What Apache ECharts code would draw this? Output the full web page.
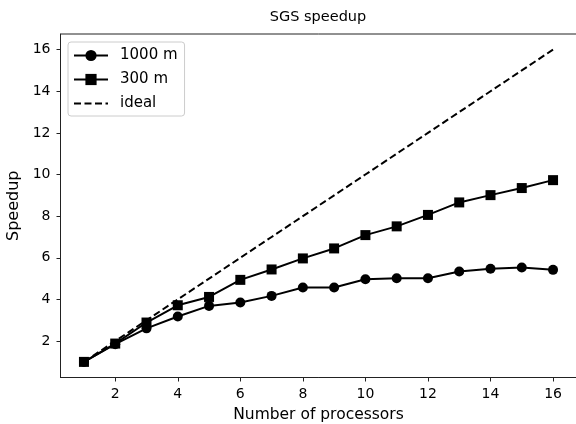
<!DOCTYPE html>
<html>
<head>
<meta charset="utf-8">
<script src="https://cdn.jsdelivr.net/npm/echarts@6/dist/echarts.min.js"></script>
<style>html,body{margin:0;padding:0;background:#fff}#c{width:576px;height:424px}</style>
</head>
<body>
<div id="c"></div>
<script>
const processors = [1,2,3,4,5,6,7,8,9,10,11,12,13,14,15,16];
const speedup1000 = [1.0,1.85,2.61,3.18,3.69,3.85,4.17,4.57,4.57,4.97,5.02,5.02,5.34,5.47,5.53,5.42];
const speedup300 = [1.0,1.88,2.89,3.72,4.12,4.94,5.44,5.97,6.45,7.09,7.51,8.06,8.66,9.01,9.35,9.73];
const ideal = [1,2,3,4,5,6,7,8,9,10,11,12,13,14,15,16];
const xTicks = [2,4,6,8,10,12,14,16];
const yTicks = [2,4,6,8,10,12,14,16];

const FONT = 'DejaVu Sans';
const pair = (ys) => processors.map((x, i) => [x, ys[i]]);

const chart = echarts.init(document.getElementById('c'), null, {renderer: 'canvas'});
chart.setOption({
  animation: false,
  backgroundColor: '#fff',
  textStyle: {fontFamily: FONT, color: '#000'},
  title: {
    text: 'SGS speedup',
    left: 318, top: 10, textAlign: 'center', padding: 0,
    textStyle: {fontFamily: FONT, fontSize: 14.5, fontWeight: 'normal', color: '#000'}
  },
  grid: {
    left: 60.5, right: -0.5, top: 34, bottom: 46.5,
    containLabel: false, outerBoundsMode: 'none',
    show: true, borderColor: '#222', borderWidth: 1, backgroundColor: 'transparent'
  },
  legend: {
    orient: 'vertical', left: 68, top: 42,
    padding: [6, 7, 5, 5],
    itemWidth: 34, itemHeight: 14, itemGap: 9,
    backgroundColor: 'rgba(255,255,255,0.85)',
    borderColor: '#ccc', borderWidth: 1, borderRadius: 3,
    textStyle: {fontFamily: FONT, fontSize: 15, color: '#000', padding: [0, 0, 0, 7]},
    data: [
      {name: '1000 m'},
      {name: '300 m'},
      {name: 'ideal', itemStyle: {color: 'rgba(0,0,0,0)', borderWidth: 0}}
    ]
  },
  xAxis: {
    type: 'value', min: 0.25, max: 16.75,
    name: 'Number of processors', nameLocation: 'middle', nameGap: 29,
    nameTextStyle: {fontFamily: FONT, fontSize: 15.5, color: '#000'},
    axisLine: {show: true, lineStyle: {color: '#222', width: 1}},
    axisTick: {show: true, inside: false, length: 4, lineStyle: {color: '#222'}, customValues: xTicks},
    axisLabel: {fontFamily: FONT, fontSize: 14, color: '#000', margin: 10, customValues: xTicks},
    splitLine: {show: false}
  },
  yAxis: {
    type: 'value', min: 0.25, max: 16.75,
    name: 'Speedup', nameLocation: 'middle', nameGap: 35, nameRotate: 90,
    nameTextStyle: {fontFamily: FONT, fontSize: 16, color: '#000'},
    axisLine: {show: true, lineStyle: {color: '#222', width: 1}},
    axisTick: {show: true, inside: false, length: 4, lineStyle: {color: '#222'}, customValues: yTicks},
    axisLabel: {fontFamily: FONT, fontSize: 14, color: '#000', margin: 10, customValues: yTicks},
    splitLine: {show: false}
  },
  series: [
    {
      name: '1000 m', type: 'line', data: pair(speedup1000),
      symbol: 'circle', symbolSize: 10,
      lineStyle: {color: '#000', width: 2},
      itemStyle: {color: '#000', borderWidth: 0}
    },
    {
      name: '300 m', type: 'line', data: pair(speedup300),
      symbol: 'rect', symbolSize: 10,
      lineStyle: {color: '#000', width: 2},
      itemStyle: {color: '#000', borderWidth: 0}
    },
    {
      name: 'ideal', type: 'line', data: pair(ideal),
      symbol: 'none',
      lineStyle: {color: '#000', width: 2, type: [7, 3.5]},
      itemStyle: {color: '#000'}
    }
  ]
});
</script>
</body>
</html>
